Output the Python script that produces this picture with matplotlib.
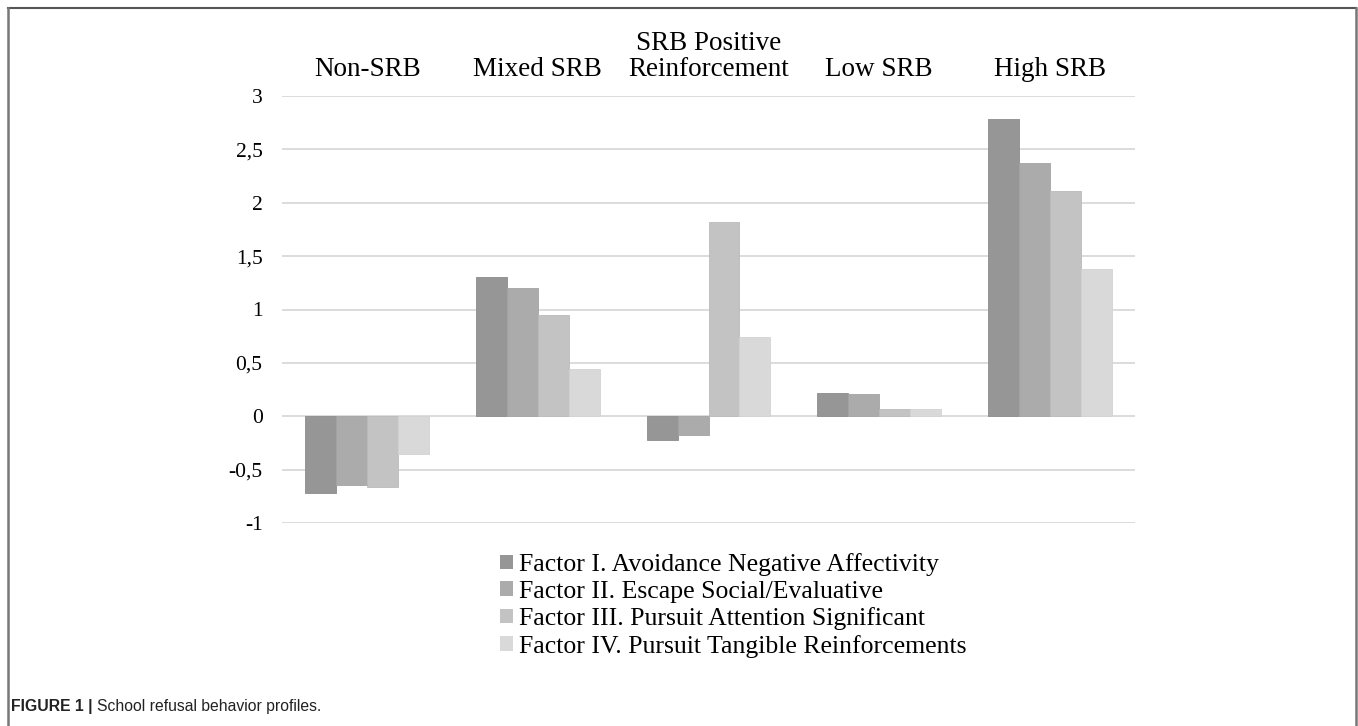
import matplotlib
matplotlib.use("Agg")
import matplotlib.pyplot as plt
import numpy as np
from matplotlib.lines import Line2D
from matplotlib.patches import Patch

categories = ["Non-SRB", "Mixed SRB", "SRB Positive\nReinforcement", "Low SRB", "High SRB"]
series_names = [
    "Factor I. Avoidance Negative Affectivity",
    "Factor II. Escape Social/Evaluative",
    "Factor III. Pursuit Attention Significant",
    "Factor IV. Pursuit Tangible Reinforcements",
]
factor1 = [-0.72, 1.30, -0.22, 0.22, 2.78]
factor2 = [-0.64, 1.20, -0.18, 0.21, 2.37]
factor3 = [-0.66, 0.95, 1.82, 0.07, 2.11]
factor4 = [-0.35, 0.44, 0.74, 0.07, 1.38]
yticks = [-1, -0.5, 0, 0.5, 1, 1.5, 2, 2.5, 3]
ytick_labels = ["-1", "-0,5", "0", "0,5", "1", "1,5", "2", "2,5", "3"]
colors = ["#969696", "#ababab", "#c3c3c3", "#d9d9d9"]
edges = ["#8c8c8c", "#a3a3a3", "#bababa", "#d2d2d2"]

W, H = 1358, 726
fig = plt.figure(figsize=(W / 100, H / 100), dpi=100)
serif = "Liberation Serif"

ax = fig.add_axes([282 / W, 1 - 523 / H, 853 / W, 427 / H])
x = np.arange(len(categories))
bw = 0.1817
for i, vals in enumerate([factor1, factor2, factor3, factor4]):
    ax.bar(x + (i - 1.5) * bw, vals, width=bw, color=colors[i], edgecolor=edges[i],
           linewidth=0.6, zorder=3, label=series_names[i])

ax.set_xlim(-0.5, len(categories) - 0.5)
ax.set_ylim(-1, 3)
ax.set_yticks(yticks)
ax.set_yticklabels(ytick_labels, fontfamily=serif, fontsize=15.5)
ax.yaxis.grid(True, color="#d9d9d9", linewidth=1.3, zorder=0)
ax.tick_params(axis="y", length=0, pad=14)
ax.xaxis.tick_top()
ax.set_xticks(x)
ax.set_xticklabels(categories, fontfamily=serif, fontsize=19.5, linespacing=1.05)
ax.tick_params(axis="x", length=0, pad=10)
for s in ax.spines.values():
    s.set_visible(False)
ax.set_axisbelow(True)

handles = [Patch(facecolor=colors[i], edgecolor="none") for i in range(4)]
leg = fig.legend(handles, series_names, loc="upper left",
                 bbox_to_anchor=(500 / W, 1 - 553 / H), frameon=False,
                 prop={"family": serif, "size": 18.5}, handlelength=0.5, handleheight=0.5,
                 handletextpad=0.25, labelspacing=0.18, borderpad=0, borderaxespad=0)

# Frame
fig.add_artist(Line2D([8 / W, 1356 / W], [1 - 8 / H, 1 - 8 / H], color="#555555", lw=1.5))
fig.add_artist(Line2D([8 / W, 8 / W], [0, 1 - 8 / H], color="#777777", lw=1.8))
fig.add_artist(Line2D([1356 / W, 1356 / W], [0, 1 - 8 / H], color="#777777", lw=1.8))

# Caption
t1 = fig.text(11 / W, 1 - 706 / H, "FIGURE 1 | ", fontfamily="Liberation Sans",
              fontweight="bold", fontsize=11.3, va="center", ha="left", color="#222222")
fig.canvas.draw()
bb = t1.get_window_extent()
fig.text(bb.x1 / W, 1 - 706 / H, "School refusal behavior profiles.",
         fontfamily="Liberation Sans", fontsize=11.3, va="center", ha="left", color="#222222")

fig.savefig("out.png", dpi=100, facecolor="white")
